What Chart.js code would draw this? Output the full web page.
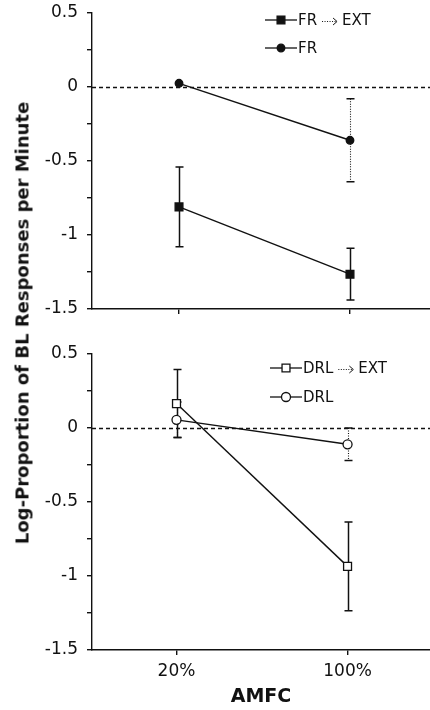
<!DOCTYPE html>
<html lang="en">
  <head>
    <meta charset="UTF-8" />
    <script src="https://cdn.jsdelivr.net/npm/chart.js"></script>
    <title>AMFC</title>
    <style>
      html, body { margin: 0; padding: 0; background: #fff; }
      #wrap { position: relative; width: 430px; height: 710px; overflow: hidden; }
      #topBox { position: absolute; left: 0; top: 0; width: 430px; height: 330px; }
      #bottomBox { position: absolute; left: 0; top: 330px; width: 430px; height: 380px; }
      #yTitle {
        position: absolute; left: 22px; top: 323px;
        transform: translate(-50%, -50%) rotate(-90deg);
        white-space: nowrap;
        font: bold 18px "DejaVu Sans", sans-serif; color: #111;
      }
    </style>
  </head>
  <body>
    <div id="wrap">
      <div id="topBox"><canvas id="graficoTopo" width="430" height="330"></canvas></div>
      <div id="bottomBox"><canvas id="graficoBaixo" width="430" height="380"></canvas></div>
      <div id="yTitle">Log-Proportion of BL Responses per Minute</div>
    </div>

<script>
  // dados
  const categorias = ['20%', '100%'];

  const frExt = [-0.81, -1.265];
  const frExtErro = [0.27, 0.175];
  const fr = [0.025, -0.36];
  const frErro = [0, 0.28];

  const drlExt = [0.165, -0.935];
  const drlExtErro = [0.23, 0.30];
  const drl = [0.055, -0.11];
  const drlErro = [0.12, 0.11];

  const yTicksComLabel = [0.5, 0, -0.5, -1, -1.5];

  const fonte = '"DejaVu Sans", sans-serif';

  function pontos(valores) {
    return valores.map((v, i) => ({ x: i + 1, y: v }));
  }

  // linha tracejada no zero + barras de erro + legenda
  const extras = {
    id: 'extras',
    beforeDatasetsDraw(chart) {
      const ctx = chart.ctx;
      const area = chart.chartArea;
      const x = chart.scales.x;
      const y = chart.scales.y;
      ctx.save();
      ctx.strokeStyle = '#111';
      ctx.lineWidth = 1.4;
      ctx.setLineDash([4, 3]);
      const y0 = Math.round(y.getPixelForValue(0)) + 0.5;
      ctx.beginPath();
      ctx.moveTo(area.left, y0);
      ctx.lineTo(area.right, y0);
      ctx.stroke();

      chart.data.datasets.forEach((ds) => {
        ds.erro.forEach((e, i) => {
          if (!e) return;
          const px = Math.round(x.getPixelForValue(i + 1)) + 0.5;
          const yt = y.getPixelForValue(ds.data[i].y + e);
          const yb = y.getPixelForValue(ds.data[i].y - e);
          ctx.setLineDash(ds.pontilhado ? [1, 1.5] : []);
          ctx.lineWidth = ds.pontilhado ? 1.1 : 1.5;
          ctx.beginPath();
          ctx.moveTo(px, yt);
          ctx.lineTo(px, yb);
          ctx.stroke();
          ctx.setLineDash([]);
          ctx.lineWidth = 1.5;
          ctx.beginPath();
          ctx.moveTo(px - 4, yt);
          ctx.lineTo(px + 4, yt);
          ctx.moveTo(px - 4, yb);
          ctx.lineTo(px + 4, yb);
          ctx.stroke();
        });
      });
      ctx.restore();
    },
    afterDatasetsDraw(chart, args, opts) {
      const ctx = chart.ctx;
      ctx.save();
      ctx.font = '15px ' + fonte;
      ctx.textBaseline = 'middle';
      chart.data.datasets.forEach((ds, k) => {
        const lx = opts.x;
        const ly = opts.y + k * opts.gap;
        ctx.strokeStyle = '#111';
        ctx.lineWidth = 1.3;
        ctx.setLineDash([]);
        ctx.beginPath();
        ctx.moveTo(lx, ly);
        ctx.lineTo(lx + 32, ly);
        ctx.stroke();
        ctx.fillStyle = ds.pointBackgroundColor;
        ctx.beginPath();
        if (ds.pointStyle === 'rect') {
          const s = Math.SQRT1_2 * ds.pointRadius;
          ctx.rect(lx + 16 - s, ly - s, 2 * s, 2 * s);
        } else {
          ctx.arc(lx + 16, ly, ds.pointRadius, 0, Math.PI * 2);
        }
        ctx.fill();
        ctx.stroke();
        ctx.fillStyle = '#111';
        const partes = ds.label.split(' -> ');
        let tx = lx + 33;
        ctx.fillText(partes[0], tx, ly + 1);
        if (partes.length > 1) {
          tx += ctx.measureText(partes[0]).width + 5;
          // seta pontilhada
          ctx.lineWidth = 1;
          ctx.setLineDash([1, 1.5]);
          ctx.beginPath();
          ctx.moveTo(tx, ly + 1.5);
          ctx.lineTo(tx + 14, ly + 1.5);
          ctx.stroke();
          ctx.setLineDash([]);
          ctx.beginPath();
          ctx.moveTo(tx + 11, ly - 2);
          ctx.lineTo(tx + 15, ly + 1.5);
          ctx.lineTo(tx + 11, ly + 5);
          ctx.stroke();
          ctx.fillText(partes[1], tx + 20, ly + 1);
        }
      });
      ctx.restore();
    }
  };

  function serie(label, valores, erros, estilo, cheio, raio, pontilhado) {
    return {
      label: label,
      data: pontos(valores),
      erro: erros,
      pontilhado: pontilhado,
      borderColor: '#111',
      borderWidth: 1.4,
      pointStyle: estilo,
      pointRadius: raio,
      pointHoverRadius: raio,
      pointBackgroundColor: cheio ? '#111' : '#fff',
      pointBorderColor: '#111',
      pointBorderWidth: 1.3,
      fill: false,
      tension: 0
    };
  }

  function config(datasets, opc) {
    return {
      type: 'line',
      data: { datasets: datasets },
      options: {
        responsive: false,
        animation: false,
        layout: { autoPadding: false, padding: { top: opc.top, left: 0, right: 0, bottom: 0 } },
        plugins: {
          legend: { display: false },
          tooltip: { enabled: false },
          extras: opc.legenda
        },
        scales: {
          x: {
            type: 'linear',
            min: opc.xmin,
            max: opc.xmax,
            afterBuildTicks(scale) {
              scale.ticks = categorias.map((c, i) => ({ value: i + 1 }));
            },
            afterFit(scale) {
              scale.height = opc.xAltura;
              scale.paddingLeft = 0;
              scale.paddingRight = 0;
            },
            ticks: {
              autoSkip: false,
              maxRotation: 0,
              padding: 6,
              color: '#111',
              font: { family: fonte, size: 17 },
              callback: (v) => opc.comLabels ? categorias[Math.round(v) - 1] : ''
            },
            grid: { drawOnChartArea: false, drawTicks: true, tickLength: 5, color: '#111', lineWidth: 1.4 },
            border: { color: '#111', width: 1.4 },
            title: {
              display: opc.comLabels,
              text: 'AMFC',
              color: '#111',
              font: { family: fonte, size: 19, weight: 'bold' },
              padding: { top: 0, bottom: 2 }
            }
          },
          y: {
            min: -1.5,
            max: 0.5,
            afterFit(scale) {
              scale.width = 92;
              scale.paddingTop = 0;
              scale.paddingBottom = 0;
            },
            ticks: {
              stepSize: 0.25,
              padding: 9,
              color: '#111',
              font: { family: fonte, size: 17 },
              callback: (v) => yTicksComLabel.some(t => Math.abs(t - v) < 1e-6) ? String(Math.round(v * 2) / 2) : ''
            },
            grid: { drawOnChartArea: false, drawTicks: true, tickLength: 5, color: '#111', lineWidth: 1.4 },
            border: { color: '#111', width: 1.4 }
          }
        }
      },
      plugins: [extras]
    };
  }

  new Chart(document.getElementById('graficoTopo'), config([
    serie('FR -> EXT', frExt, frExtErro, 'rect', true, 5.5, false),
    serie('FR', fr, frErro, 'circle', true, 3.8, true)
  ], { top: 13, xmin: 0.491, xmax: 2.468, xAltura: 21, comLabels: false, legenda: { x: 265, y: 20, gap: 28 } }));

  new Chart(document.getElementById('graficoBaixo'), config([
    serie('DRL -> EXT', drlExt, drlExtErro, 'rect', false, 5.6, false),
    serie('DRL', drl, drlErro, 'circle', false, 4.5, true)
  ], { top: 24, xmin: 0.506, xmax: 2.482, xAltura: 60, comLabels: true, legenda: { x: 270, y: 38, gap: 29 } }));
</script>
  </body>
</html>
